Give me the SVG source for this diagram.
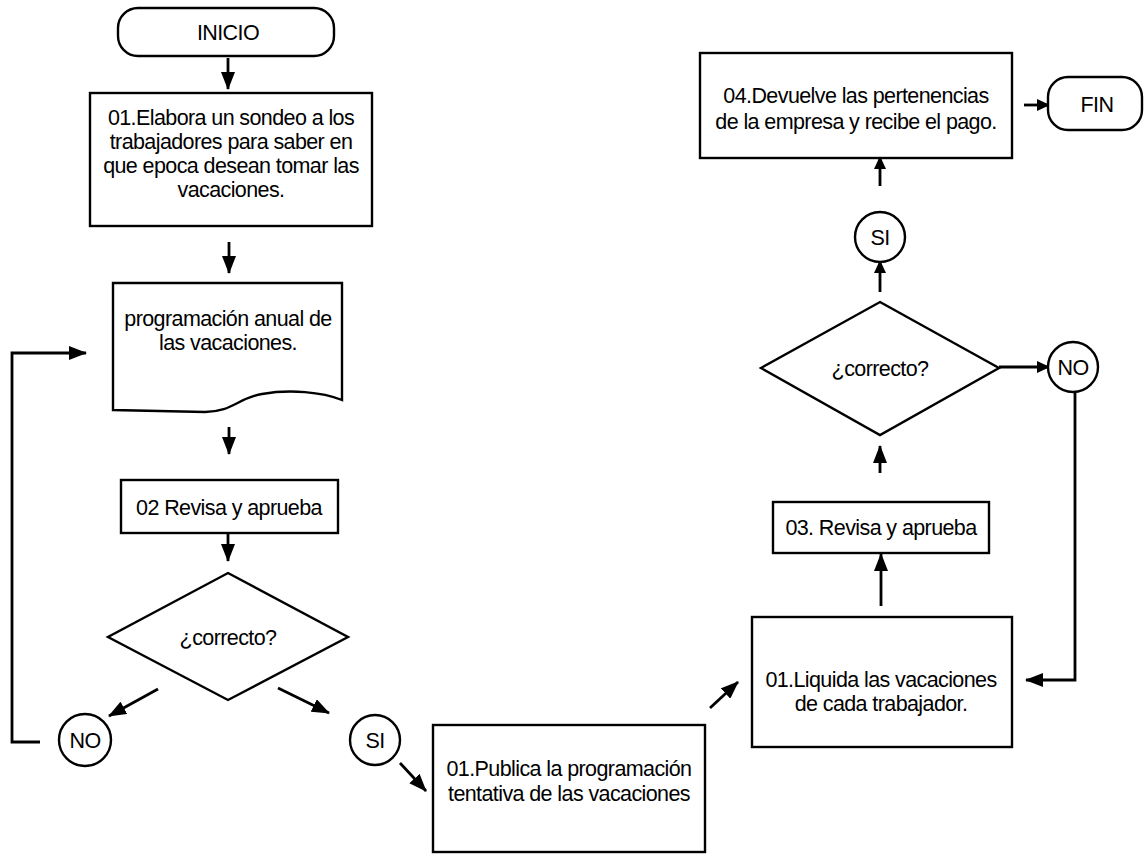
<svg xmlns="http://www.w3.org/2000/svg" width="1144" height="855" viewBox="0 0 1144 855">
  <defs>
    <style>
      .shape { fill: #ffffff; stroke: #000000; stroke-width: 2.4; }
      .lbl { font-family: "Liberation Sans", Arial, sans-serif; font-size: 21.5px; fill: #000000; text-anchor: middle; letter-spacing: -0.6px; }
      .link { fill: none; stroke: #000000; stroke-width: 2.8; }
      .big { marker-end: url(#head); }
      .small { marker-end: url(#headSmall); }
    </style>
    <marker id="head" viewBox="0 0 18 14" refX="17" refY="7" markerWidth="18" markerHeight="14" markerUnits="userSpaceOnUse" orient="auto">
      <path d="M0,0 L18,7 L0,14 Z" fill="#000000"/>
    </marker>
    <marker id="headSmall" viewBox="0 0 13 12" refX="12" refY="6" markerWidth="13" markerHeight="12" markerUnits="userSpaceOnUse" orient="auto">
      <path d="M0,0 L13,6 L0,12 Z" fill="#000000"/>
    </marker>
  </defs>

  <rect width="1144" height="855" fill="#ffffff"/>

  <!-- connectors -->
  <g id="connectors">
    <line class="link big" x1="228" y1="58" x2="228" y2="89"/>
    <line class="link big" x1="229" y1="242" x2="229" y2="273"/>
    <line class="link big" x1="229" y1="427" x2="229" y2="454"/>
    <line class="link big" x1="228" y1="534" x2="228" y2="561"/>
    <line class="link big" x1="158" y1="689" x2="109" y2="716"/>
    <line class="link big" x1="278" y1="688" x2="329" y2="713"/>
    <polyline class="link big" points="40,742 12,742 12,353 86,353"/>
    <line class="link big" x1="400" y1="763" x2="426" y2="791"/>
    <line class="link big" x1="710" y1="708" x2="738" y2="682"/>
    <line class="link big" x1="881" y1="606" x2="881" y2="554"/>
    <line class="link big" x1="880" y1="473" x2="880" y2="446"/>
    <line class="link small" x1="880" y1="292" x2="880" y2="261"/>
    <line class="link small" x1="880" y1="186" x2="880" y2="157"/>
    <line class="link small" x1="1024" y1="105" x2="1049" y2="105"/>
    <line class="link small" x1="999" y1="367" x2="1049" y2="367"/>
    <polyline class="link big" points="1075,392 1075,680 1026,680"/>
  </g>

  <g id="inicio">
    <rect class="shape" x="118" y="8" width="216" height="48" rx="20"/>
    <text class="lbl" x="228" y="40">INICIO</text>
  </g>

  <g id="elabora">
    <rect class="shape" x="90" y="93" width="282" height="133"/>
    <text class="lbl" x="231" y="125">01.Elabora un sondeo a los</text>
    <text class="lbl" x="231" y="149">trabajadores para saber en</text>
    <text class="lbl" x="231" y="173">que epoca desean tomar las</text>
    <text class="lbl" x="231" y="197">vacaciones.</text>
  </g>

  <g id="programacion">
    <path class="shape" d="M113,283 H342 V400 C322,392 290,389 262,394 C238,398 232,412 205,412 L113,410 Z"/>
    <text class="lbl" x="228" y="326">programación anual de</text>
    <text class="lbl" x="228" y="350">las vacaciones.</text>
  </g>

  <g id="revisa02">
    <rect class="shape" x="121" y="480" width="217" height="53"/>
    <text class="lbl" x="229" y="515">02 Revisa y aprueba</text>
  </g>

  <g id="decision1">
    <polygon class="shape" points="228,573 348,637 228,700 108,637"/>
    <text class="lbl" x="228" y="645">¿correcto?</text>
  </g>

  <g id="no1">
    <circle class="shape" cx="85" cy="740" r="26"/>
    <text class="lbl" x="85" y="748">NO</text>
  </g>

  <g id="si1">
    <circle class="shape" cx="375" cy="740" r="25"/>
    <text class="lbl" x="375" y="748">SI</text>
  </g>

  <g id="publica">
    <rect class="shape" x="433" y="725" width="272" height="127"/>
    <text class="lbl" x="569" y="776">01.Publica la programación</text>
    <text class="lbl" x="569" y="801">tentativa de las vacaciones</text>
  </g>

  <g id="liquida">
    <rect class="shape" x="752" y="617" width="260" height="130"/>
    <text class="lbl" x="881" y="687">01.Liquida las vacaciones</text>
    <text class="lbl" x="881" y="711">de cada trabajador.</text>
  </g>

  <g id="revisa03">
    <rect class="shape" x="773" y="502" width="216" height="51"/>
    <text class="lbl" x="881" y="535">03. Revisa y aprueba</text>
  </g>

  <g id="decision2">
    <polygon class="shape" points="880,302 999,368 880,435 761,368"/>
    <text class="lbl" x="880" y="376">¿correcto?</text>
  </g>

  <g id="si2">
    <circle class="shape" cx="880" cy="237" r="25"/>
    <text class="lbl" x="880" y="245">SI</text>
  </g>

  <g id="no2">
    <circle class="shape" cx="1073" cy="367" r="25"/>
    <text class="lbl" x="1073" y="375">NO</text>
  </g>

  <g id="devuelve">
    <rect class="shape" x="700" y="53" width="312" height="105"/>
    <text class="lbl" x="856" y="103">04.Devuelve las pertenencias</text>
    <text class="lbl" x="856" y="129">de la empresa y recibe el pago.</text>
  </g>

  <g id="fin">
    <rect class="shape" x="1048" y="77" width="94" height="53" rx="20"/>
    <text class="lbl" x="1097" y="112">FIN</text>
  </g>
</svg>
